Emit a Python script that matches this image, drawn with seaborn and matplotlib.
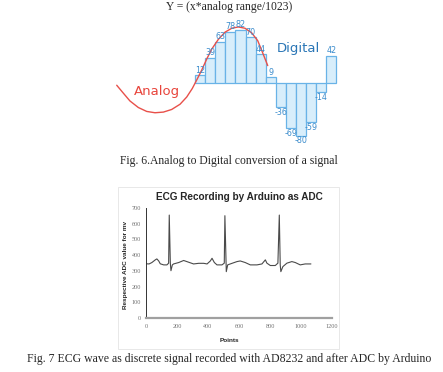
import numpy as np
import seaborn as sns
import matplotlib.pyplot as plt
from matplotlib.patches import Rectangle

# ---- top figure: analog vs digital samples ----
digital_vals = [12, 39, 63, 78, 82, 70, 44, 9, -36, -69, -80, -59, -14, 42]
digital_idx = list(range(len(digital_vals)))

# analog curve (x in sample units, y in value units)
analog_x = [-8.25, -7.6, -6.94, -6.11, -5.28, -4.46, -3.63, -2.81, -1.98, -1.32, -0.77, -0.33,
            0.16, 0.66, 1.15, 1.81, 2.47, 3.14, 3.79, 4.45, 5.11, 5.71, 6.16, 6.7]
analog_y = [-3, -15, -27, -37, -43, -45, -44, -40, -32, -21, -8, 5,
            20, 37, 52, 67, 78, 84, 86, 84, 77, 65, 48, 27]

# ---- bottom figure: ECG recording ----
ecg_x = [0, 20, 38, 60, 70, 82, 92, 114, 135, 146, 150, 157, 161, 170, 178, 211, 243, 275, 307,
         340, 372, 394, 415, 426, 441, 458, 490, 505, 509, 518, 527, 555, 587, 608, 640, 673,
         716, 748, 770, 780, 802, 834, 851, 860, 866, 870, 883, 909, 941, 963, 995, 1027, 1064]
ecg_y = [345, 344, 353, 370, 376, 363, 345, 338, 338, 349, 655, 349, 301, 338, 344, 353, 366, 355, 344,
         348, 348, 344, 363, 380, 353, 338, 338, 349, 651, 295, 338, 348, 359, 363, 353, 338,
         338, 344, 370, 349, 334, 334, 349, 655, 338, 295, 327, 349, 359, 353, 338, 344, 344]

sns.set_style("white")
plt.rcParams['font.family'] = ['DejaVu Sans']

W, H = 443, 372
fig = plt.figure(figsize=(W / 100, H / 100), dpi=100)


def px_box(x0, y0, x1, y1):
    return [x0 / W, 1 - y1 / H, (x1 - x0) / W, (y1 - y0) / H]


# top panel
ax1 = fig.add_axes(px_box(105, 20, 345, 140))
sns.barplot(x=digital_idx, y=digital_vals, width=1.0, color='#d8eefb',
            edgecolor='#69b3e7', linewidth=0.9, saturation=1, ax=ax1)
ax1.bar_label(ax1.containers[0], labels=[str(v) for v in digital_vals], padding=0.5,
              fontsize=5.8, color='#3b8ccc')
sns.lineplot(x=analog_x, y=analog_y, sort=False, color='#e8504a', linewidth=1.0, ax=ax1)
ax1.text(-4.26, -12, 'Analog', color='#e8453c', fontsize=9.5, ha='center', va='center')
ax1.text(9.7, 53, 'Digital', color='#2a76b6', fontsize=9.5, ha='center', va='center')
ax1.set_xlim(-9.41, 14.35)
ax1.set_ylim(-86.6, 96.6)
ax1.axis('off')

serif = ['Liberation Serif', 'DejaVu Serif']
fig.text(229 / W, 1 - 7 / H, 'Y = (x*analog range/1023)', family=serif, fontsize=8.4,
         ha='center', va='center')
fig.text(229 / W, 1 - 161 / H, 'Fig. 6.Analog to Digital conversion of a signal', family=serif,
         fontsize=8.4, ha='center', va='center')
fig.text(229 / W, 1 - 359 / H,
         'Fig. 7 ECG wave as discrete signal recorded with AD8232 and after ADC by Arduino',
         family=serif, fontsize=8.5, ha='center', va='center')

# frame around ECG chart
fig.patches.append(Rectangle((118 / W, 1 - 349 / H), (339 - 118) / W, (349 - 187) / H,
                             transform=fig.transFigure, fill=False, edgecolor='#e4e4e4',
                             linewidth=0.6))

# bottom panel
ax2 = fig.add_axes(px_box(146, 208, 332, 318))
sns.lineplot(x=ecg_x, y=ecg_y, sort=False, color='#4a4a4a', linewidth=0.8, ax=ax2)
ax2.set_xlim(0, 1200)
ax2.set_ylim(0, 700)
ax2.set_xticks(range(0, 1201, 200))
ax2.set_yticks(range(0, 701, 100))
for s in ['top', 'right']:
    ax2.spines[s].set_visible(False)
ax2.spines['left'].set_color('#333333')
ax2.spines['left'].set_linewidth(0.7)
ax2.spines['bottom'].set_color('#a0a0a0')
ax2.spines['bottom'].set_linewidth(1.6)
ax2.tick_params(axis='y', length=2, width=0.6, color='#333333', pad=1.5, labelsize=4.4,
                labelcolor='#707070')
ax2.tick_params(axis='x', length=0, pad=4, labelsize=4.4, labelcolor='#707070')
for lab in ax2.get_xticklabels() + ax2.get_yticklabels():
    lab.set_family(serif)
ax2.set_title('ECG Recording by Arduino as ADC', family=['Liberation Sans', 'DejaVu Sans'],
              fontsize=7.2, fontweight='bold', pad=6)
ax2.set_xlabel('Points', family=['Liberation Sans', 'DejaVu Sans'], fontsize=4.6,
               fontweight='bold')
ax2.set_ylabel('Respective ADC value for mv', family=['Liberation Sans', 'DejaVu Sans'],
               fontsize=4.6, fontweight='bold')
ax2.xaxis.set_label_coords(0.446, -0.18)
ax2.yaxis.set_label_coords(-0.097, 0.48)

fig.savefig('out.png', dpi=100)
